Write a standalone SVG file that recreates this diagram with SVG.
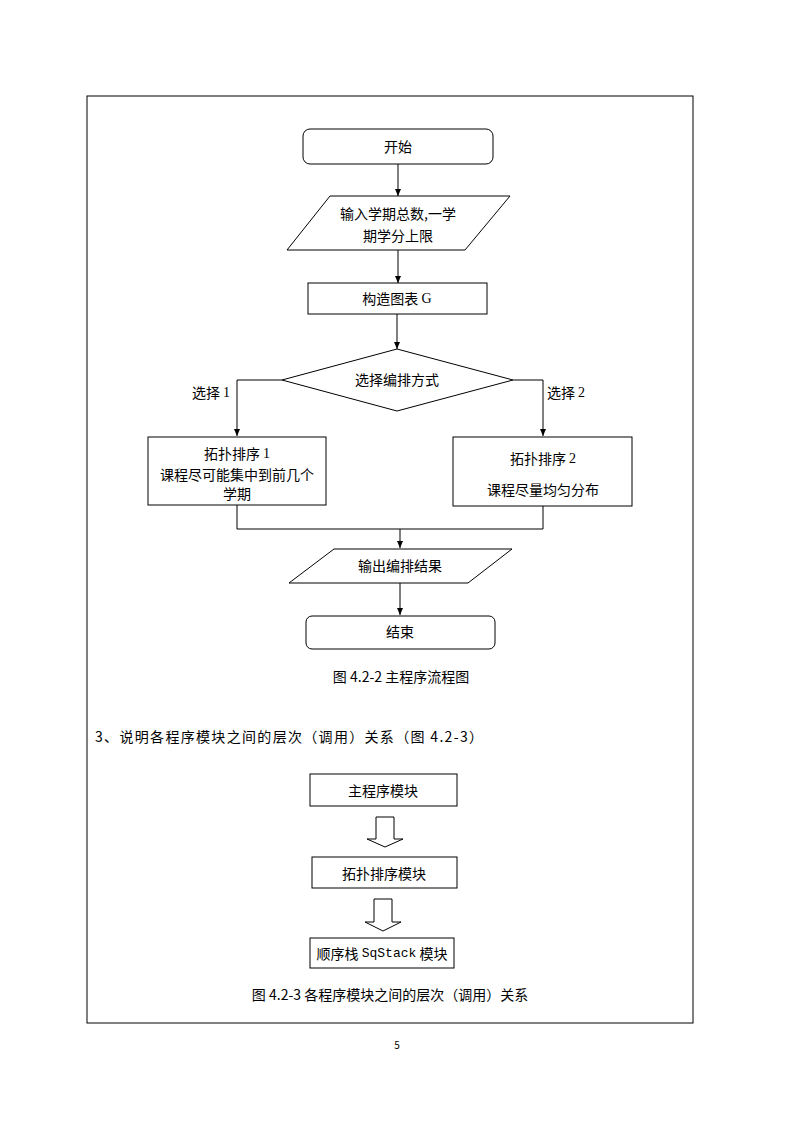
<svg xmlns="http://www.w3.org/2000/svg" width="794" height="1123" viewBox="0 0 794 1123">
<style>
.s{fill:#fff;stroke:#000;stroke-width:1}
.t{font-family:"Noto Sans CJK SC","Liberation Sans",sans-serif;font-size:14px;fill:#000;text-anchor:middle;dominant-baseline:central}
.c{fill:none;stroke:#000;stroke-width:1}
.n{font-family:"Liberation Serif",serif}
</style>
<defs>
<marker id="a" markerWidth="8" markerHeight="8" refX="7" refY="4" orient="auto" markerUnits="userSpaceOnUse">
<path d="M0,1 L7,4 L0,7 Z" fill="#000"/>
</marker>
</defs>
<rect x="0" y="0" width="794" height="1123" fill="#fff"/>
<rect x="87" y="96" width="606" height="927" fill="none" stroke="#000" stroke-width="1"/>
<g id="connectors">
<line class="c" x1="398" y1="164" x2="398" y2="196" marker-end="url(#a)" stroke-width="1.5"/>
<line class="c" x1="398" y1="250" x2="398" y2="283" marker-end="url(#a)"/>
<line class="c" x1="397" y1="314" x2="397" y2="349" marker-end="url(#a)"/>
<polyline class="c" points="282,380 237,380 237,436" marker-end="url(#a)"/>
<polyline class="c" points="513,380 543,380 543,436" marker-end="url(#a)"/>
<polyline class="c" points="237,505 237,529 543,529 543,506"/>
<line class="c" x1="400" y1="529" x2="400" y2="548" marker-end="url(#a)"/>
<line class="c" x1="400" y1="583" x2="400" y2="615" marker-end="url(#a)"/>
<path class="s" d="M376,817 H394 V839 H403 L385,847 L367,839 H376 Z"/>
<path class="s" d="M374,899 H392 V922 H401 L383,931 L365,922 H374 Z"/>
</g>
<g id="start"><rect class="s" x="303" y="129" width="190" height="35" rx="7"/><text class="t" x="398" y="146">开始</text></g>
<g id="input"><polygon class="s" points="330,196 510,196 465,250 287,250"/><text class="t" x="398" y="213">输入学期总数,一学</text><text class="t" x="398" y="235">期学分上限</text></g>
<g id="build"><rect class="s" x="308" y="283" width="179" height="31"/><text class="t" x="397" y="298">构造图表 <tspan class="n">G</tspan></text></g>
<g id="decide"><polygon class="s" points="397,349 513,380 397,411 282,380"/><text class="t" x="397" y="379">选择编排方式</text></g>
<g id="lbl1"><text class="t" x="211" y="392">选择 <tspan class="n">1</tspan></text></g>
<g id="lbl2"><text class="t" x="566" y="392">选择 <tspan class="n">2</tspan></text></g>
<g id="topo1"><rect class="s" x="148" y="437" width="178" height="68"/><text class="t" x="237" y="453">拓扑排序 <tspan class="n">1</tspan></text><text class="t" x="237" y="474">课程尽可能集中到前几个</text><text class="t" x="237" y="493">学期</text></g>
<g id="topo2"><rect class="s" x="453" y="437" width="179" height="69"/><text class="t" x="543" y="458">拓扑排序 <tspan class="n">2</tspan></text><text class="t" x="543" y="489">课程尽量均匀分布</text></g>
<g id="output"><polygon class="s" points="334,549 512,549 468,583 289,583"/><text class="t" x="400" y="565">输出编排结果</text></g>
<g id="end"><rect class="s" x="306" y="616" width="189" height="33" rx="6"/><text class="t" x="400" y="631">结束</text></g>
<text class="t" x="401" y="676">图 4.2-2 主程序流程图</text>
<text class="t" x="95" y="736" style="text-anchor:start" textLength="388" lengthAdjust="spacing">3、说明各程序模块之间的层次（调用）关系（图 4.2-3）</text>
<g id="main"><rect class="s" x="310" y="774" width="147" height="32"/><text class="t" x="383" y="790">主程序模块</text></g>
<g id="topo"><rect class="s" x="312" y="857" width="145" height="31"/><text class="t" x="384" y="873">拓扑排序模块</text></g>
<g id="stack"><rect class="s" x="310" y="938" width="144" height="30"/><text class="t" x="382" y="953">顺序栈 <tspan style="font-family:'Liberation Mono',monospace;font-size:13px">SqStack</tspan> 模块</text></g>
<text class="t" x="390" y="994">图 4.2-3 各程序模块之间的层次（调用）关系</text>
<text class="t" x="397" y="1044" style="font-size:10px">5</text>
</svg>
